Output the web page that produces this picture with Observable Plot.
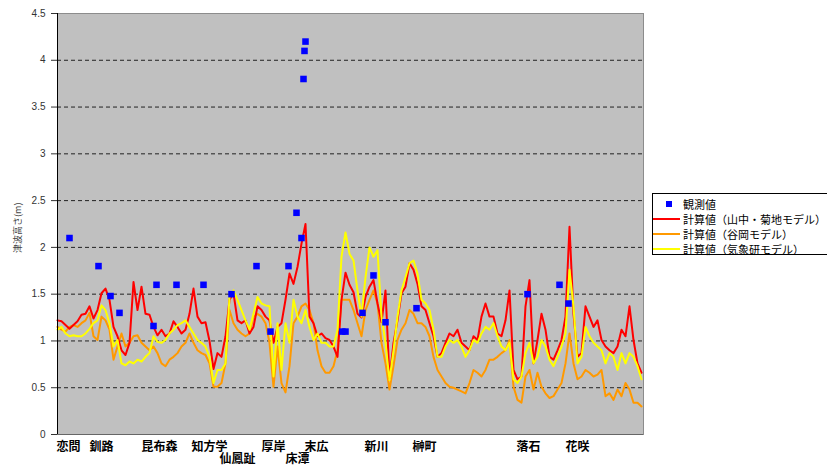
<!DOCTYPE html>
<html><head><meta charset="utf-8">
<script src="https://cdn.jsdelivr.net/npm/d3@7"></script>
<script src="https://cdn.jsdelivr.net/npm/@observablehq/plot@0.6"></script>
<style>
body{margin:0;background:#fff;font-family:"Noto Sans CJK JP",sans-serif;}
#wrap{position:relative;width:827px;height:465px;overflow:hidden;background:#fff;}
#chart{position:absolute;left:0;top:0;}
#legend{position:absolute;left:652px;top:193px;width:200px;height:62px;border:1px solid #000;background:#fff;box-sizing:border-box;font-size:11px;color:#000;}
.row{position:absolute;left:0;height:14px;display:flex;align-items:center;white-space:nowrap;line-height:14px;}
.sw{width:27px;height:2px;margin-right:3px;}
.sq{width:6px;height:6px;background:#0000ff;margin-left:13px;margin-right:11px;}
</style></head>
<body><div id="wrap"><div id="chart"></div><div id="legend"></div></div>
<script>
// Computed tsunami heights along the coast (index = position along coast)
const red = [1.22,1.21,1.17,1.13,1.17,1.21,1.28,1.29,1.37,1.24,
 1.33,1.51,1.56,1.44,1.15,1.05,0.90,0.85,0.98,1.63,
 1.33,1.58,1.29,1.28,1.15,1.06,1.12,1.05,1.08,1.21,
 1.15,1.08,1.12,1.29,1.56,1.26,1.19,1.20,1.00,0.70,
 0.87,0.83,1.05,1.44,1.51,1.22,1.19,1.22,1.08,1.15,
 1.37,1.33,1.26,1.22,0.98,1.15,1.19,1.44,1.72,1.61,
 1.79,2.04,2.25,1.26,1.19,1.05,1.08,1.03,1.01,0.94,
 0.83,1.44,1.73,1.60,1.52,1.29,1.25,1.47,1.58,1.65,
 1.40,1.20,1.54,0.60,0.98,1.22,1.51,1.58,1.83,1.76,
 1.61,1.37,1.33,1.19,1.05,0.83,0.87,0.98,1.08,1.05,
 1.12,0.98,0.94,0.90,1.05,1.01,1.26,1.40,1.26,1.26,
 1.08,1.05,1.22,1.54,0.69,0.59,0.62,1.37,1.65,0.76,
 1.01,1.29,1.12,0.83,0.80,0.90,1.01,1.26,2.22,1.29,
 0.83,0.87,1.37,1.26,1.15,1.22,1.01,0.94,0.90,0.87,
 0.94,1.12,1.05,1.37,1.01,0.76,0.66];
const orange = [1.15,1.12,1.10,1.15,1.17,1.15,1.19,1.22,1.30,1.05,
 1.01,1.26,1.22,1.12,0.80,0.94,1.08,0.94,0.98,1.05,
 1.06,0.98,0.94,0.90,0.94,0.87,0.76,0.73,0.80,0.83,
 0.87,0.94,0.98,1.08,0.98,0.90,0.87,0.85,0.76,0.51,
 0.51,0.55,0.76,1.33,1.19,1.12,1.08,1.05,1.08,1.26,
 1.29,1.26,1.19,0.98,0.51,0.94,0.55,0.45,0.73,1.19,
 1.26,1.37,1.40,1.33,1.19,0.90,0.73,0.66,0.66,0.73,
 0.90,1.44,1.44,1.44,1.33,1.19,1.05,1.33,1.44,1.54,
 1.40,0.98,0.76,0.48,0.73,1.01,1.12,1.19,1.33,1.29,
 1.19,1.19,1.15,1.05,0.83,0.69,0.62,0.55,0.51,0.50,
 0.48,0.46,0.44,0.55,0.69,0.66,0.62,0.69,0.80,0.80,
 0.83,0.87,0.90,1.01,0.51,0.37,0.34,0.62,0.69,0.48,
 0.66,0.51,0.44,0.39,0.41,0.48,0.55,0.76,1.08,0.76,
 0.59,0.62,0.69,0.66,0.62,0.64,0.69,0.41,0.44,0.37,
 0.48,0.41,0.55,0.48,0.34,0.34,0.30];
const yellow = [1.12,1.15,1.08,1.05,1.06,1.05,1.05,1.08,1.13,1.19,
 1.22,1.38,1.33,1.19,0.94,1.01,0.76,0.74,0.78,0.76,
 0.80,0.78,0.83,0.87,1.05,0.99,0.98,1.01,1.08,1.12,
 1.17,1.19,1.22,1.15,1.08,1.01,0.98,0.94,0.83,0.55,
 0.69,0.69,0.76,1.47,1.54,1.44,1.33,1.22,1.12,1.29,
 1.47,1.40,1.38,1.37,0.62,1.19,0.69,1.19,0.98,1.44,
 1.26,1.19,1.33,1.15,1.01,1.08,0.98,0.98,0.94,0.94,
 1.12,1.90,2.16,1.93,1.86,1.54,1.26,1.68,2.00,1.90,
 1.97,1.26,0.98,0.58,0.90,1.26,1.54,1.68,1.83,1.86,
 1.72,1.44,1.40,1.33,1.12,0.83,0.83,0.94,1.01,0.98,
 1.01,0.94,0.83,0.90,1.01,0.98,1.08,1.15,1.12,1.19,
 1.05,0.94,0.90,0.98,0.59,0.55,0.62,0.87,0.98,0.76,
 0.83,1.01,0.94,0.80,0.73,0.83,0.94,1.08,1.76,1.37,
 0.76,0.83,1.15,1.05,0.98,0.94,0.90,0.76,0.87,0.83,
 0.69,0.87,0.76,0.87,0.83,0.73,0.59];

// Observed heights
const obsPos = [3,10.25,13.25,15.5,24,24.75,29.75,36.5,43.5,49.75,53.25,57.75,59.75,61,61.5,61.75,62,71.2,72,76.25,79,82,89.75,117.5,125.5,127.75];
const obsVal = [2.1,1.8,1.48,1.3,1.16,1.6,1.6,1.6,1.5,1.8,1.1,1.8,2.37,2.1,3.8,4.1,4.2,1.1,1.1,1.3,1.7,1.2,1.35,1.5,1.6,1.4];

// Place names
const stations = ["恋問","釧路","昆布森","知方学","仙鳳趾","厚岸","床潭","末広","新川","榊町","落石","花咲"];
const stationPos = [2.75,11,25.5,38,45,54,60,64.75,79.75,91.75,117.75,130];
const stationRow = [0,0,0,0,1,0,1,0,0,0,0,0];

const yTicks = [0,0.5,1,1.5,2,2.5,3,3.5,4,4.5];
const gridVals = [0.5,1,1.5,2,2.5,3,3.5,4];
const yLabel = "津波高さ(m)";

const seriesNames = ["観測値","計算値（山中・菊地モデル）","計算値（谷岡モデル）","計算値（気象研モデル）"];
const seriesColors = ["#0000ff","#ff0000","#ff9900","#ffff00"];

const rows = d3.range(red.length).map(i => ({i, red: red[i], orange: orange[i], yellow: yellow[i]}));
const obs = obsPos.map((p, k) => ({p, v: obsVal[k]}));
const st = stations.map((name, k) => ({name, p: stationPos[k], row: stationRow[k]}));

const labelFont = "'Noto Sans CJK JP', sans-serif";
const chart = Plot.plot({
  width: 650, height: 465,
  marginLeft: 57, marginRight: 7, marginTop: 13, marginBottom: 31,
  x: {domain: [0, 146.5], axis: null},
  y: {domain: [0, 4.5], ticks: yTicks, tickSize: 6, tickPadding: 6, label: null, tickFormat: d => String(d)},
  style: {fontFamily: "'Liberation Sans', Arial, sans-serif", fontSize: "10px", color: "#333", background: "transparent"},
  marks: [
    Plot.frame({fill: "#c0c0c0", stroke: "#8c8c8c"}),
    Plot.ruleY(gridVals, {stroke: "#222", strokeDasharray: "4,3", strokeWidth: 1}),
    Plot.lineY(rows, {x: "i", y: "orange", stroke: seriesColors[2], strokeWidth: 2}),
    Plot.lineY(rows, {x: "i", y: "red", stroke: seriesColors[1], strokeWidth: 2}),
    Plot.lineY(rows, {x: "i", y: "yellow", stroke: seriesColors[3], strokeWidth: 2}),
    Plot.dot(obs, {x: "p", y: "v", symbol: "square", fill: seriesColors[0], r: 3.7}),
    Plot.ruleX([0], {stroke: "#000"}),
    Plot.ruleY([0], {stroke: "#666"}),
    Plot.text(st.filter(d => d.row === 0), {x: "p", text: "name", frameAnchor: "bottom", dy: 13, lineAnchor: "middle", fontSize: 12, fontWeight: "bold", fill: "#000", fontFamily: labelFont}),
    Plot.text(st.filter(d => d.row === 1), {x: "p", text: "name", frameAnchor: "bottom", dy: 24.5, lineAnchor: "middle", fontSize: 12, fontWeight: "bold", fill: "#000", fontFamily: labelFont}),
    Plot.text([yLabel], {frameAnchor: "left", dx: -39, dy: 29, rotate: -90, fontSize: 9, fill: "#444", fontFamily: labelFont})
  ]
});
document.getElementById("chart").appendChild(chart);

// Legend
const leg = document.getElementById("legend");
const tops = [3, 18, 33, 48];
seriesNames.forEach((name, k) => {
  const r = document.createElement("div");
  r.className = "row";
  r.style.top = tops[k] + "px";
  const m = document.createElement("div");
  if (k === 0) { m.className = "sq"; }
  else { m.className = "sw"; m.style.background = seriesColors[k]; }
  r.appendChild(m);
  const t = document.createElement("span");
  t.textContent = name;
  r.appendChild(t);
  leg.appendChild(r);
});
</script>
</body></html>
